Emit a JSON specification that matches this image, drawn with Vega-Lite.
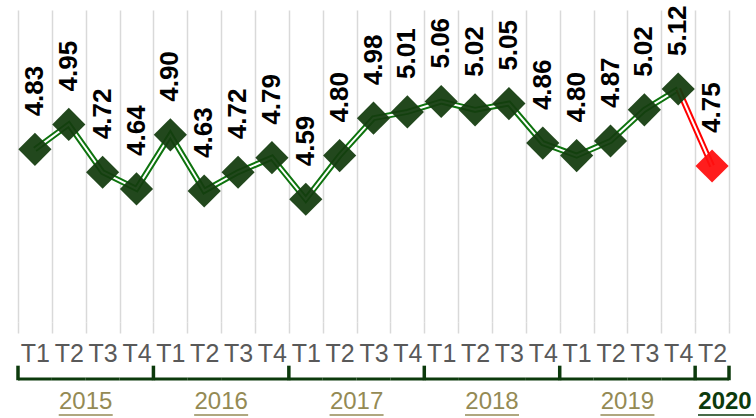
{
  "$schema": "https://vega.github.io/schema/vega-lite/v6.json",
  "width": 711,
  "height": 312,
  "autosize": {"type": "none"},
  "padding": {"left": 18, "top": 10, "right": 27, "bottom": 96},
  "background": "white",
  "view": {"stroke": null},
  "data": {
    "values": [
      {"key": "2015-T1", "q": "T1", "year": "2015", "v": 4.83},
      {"key": "2015-T2", "q": "T2", "year": "2015", "v": 4.95},
      {"key": "2015-T3", "q": "T3", "year": "2015", "v": 4.72},
      {"key": "2015-T4", "q": "T4", "year": "2015", "v": 4.64},
      {"key": "2016-T1", "q": "T1", "year": "2016", "v": 4.90},
      {"key": "2016-T2", "q": "T2", "year": "2016", "v": 4.63},
      {"key": "2016-T3", "q": "T3", "year": "2016", "v": 4.72},
      {"key": "2016-T4", "q": "T4", "year": "2016", "v": 4.79},
      {"key": "2017-T1", "q": "T1", "year": "2017", "v": 4.59},
      {"key": "2017-T2", "q": "T2", "year": "2017", "v": 4.80},
      {"key": "2017-T3", "q": "T3", "year": "2017", "v": 4.98},
      {"key": "2017-T4", "q": "T4", "year": "2017", "v": 5.01},
      {"key": "2018-T1", "q": "T1", "year": "2018", "v": 5.06},
      {"key": "2018-T2", "q": "T2", "year": "2018", "v": 5.02},
      {"key": "2018-T3", "q": "T3", "year": "2018", "v": 5.05},
      {"key": "2018-T4", "q": "T4", "year": "2018", "v": 4.86},
      {"key": "2019-T1", "q": "T1", "year": "2019", "v": 4.80},
      {"key": "2019-T2", "q": "T2", "year": "2019", "v": 4.87},
      {"key": "2019-T3", "q": "T3", "year": "2019", "v": 5.02},
      {"key": "2019-T4", "q": "T4", "year": "2019", "v": 5.12},
      {"key": "2020-T2", "q": "T2", "year": "2020", "v": 4.75}
    ]
  },
  "encoding": {
    "x": {
      "field": "key",
      "type": "ordinal",
      "sort": null,
      "scale": {"paddingInner": 0, "paddingOuter": 0},
      "axis": {
        "title": null,
        "domain": false,
        "grid": true,
        "gridColor": "#d9d9d9",
        "gridWidth": 1.5,
        "tickBand": "extent",
        "tickColor": "#d9d9d9",
        "tickWidth": 1.5,
        "tickSize": 11,
        "labelAngle": 0,
        "labelExpr": "split(datum.value, '-')[1]",
        "labelFont": "Liberation Sans",
        "labelFontSize": 25,
        "labelColor": "#595959",
        "labelPadding": 8
      }
    }
  },
  "layer": [
    {
      "transform": [{"filter": "datum.year != '2020'"}],
      "mark": {"type": "line", "color": "#0e730e", "strokeWidth": 6},
      "encoding": {"y": {"field": "v", "type": "quantitative", "scale": {"domain": [4, 5.5], "nice": false, "zero": false}, "axis": null}}
    },
    {
      "transform": [{"filter": "datum.year != '2020'"}],
      "mark": {"type": "line", "color": "white", "strokeWidth": 2},
      "encoding": {"y": {"field": "v", "type": "quantitative"}}
    },
    {
      "transform": [{"filter": "datum.key == '2019-T4' || datum.key == '2020-T2'"}],
      "mark": {"type": "line", "color": "#ff0000", "strokeWidth": 6},
      "encoding": {"y": {"field": "v", "type": "quantitative"}}
    },
    {
      "transform": [{"filter": "datum.key == '2019-T4' || datum.key == '2020-T2'"}],
      "mark": {"type": "line", "color": "white", "strokeWidth": 2},
      "encoding": {"y": {"field": "v", "type": "quantitative"}}
    },
    {
      "mark": {"type": "point", "shape": "diamond", "filled": true, "size": 1100, "opacity": 0.94},
      "encoding": {
        "y": {"field": "v", "type": "quantitative"},
        "color": {
          "condition": {"test": "datum.year == '2020'", "value": "#ff0f0f"},
          "value": "#143d0f"
        }
      }
    },
    {
      "mark": {"type": "text", "angle": 270, "align": "left", "baseline": "middle", "dx": 33, "font": "Liberation Sans", "fontWeight": "bold", "fontSize": 26, "color": "black"},
      "encoding": {
        "y": {"field": "v", "type": "quantitative"},
        "text": {"field": "v", "type": "quantitative", "format": ".2f"}
      }
    },
    {
      "mark": {"type": "bar", "color": "#0c3a0c"},
      "encoding": {
        "y": {"datum": 3.733},
        "y2": {"datum": 3.719}
      }
    },
    {
      "transform": [{"filter": "datum.q == 'T1' || datum.key == '2020-T2'"}],
      "mark": {"type": "rule", "color": "#0c3a0c", "strokeWidth": 3.5},
      "encoding": {
        "x": {"field": "key", "type": "ordinal", "sort": null, "bandPosition": 0},
        "y": {"datum": 3.72},
        "y2": {"datum": 3.79}
      }
    },
    {
      "transform": [{"filter": "datum.key == '2020-T2'"}],
      "mark": {"type": "rule", "color": "#0c3a0c", "strokeWidth": 3.5},
      "encoding": {
        "x": {"field": "key", "type": "ordinal", "sort": null, "bandPosition": 1},
        "y": {"datum": 3.72},
        "y2": {"datum": 3.79}
      }
    },
    {
      "transform": [{"filter": "datum.q == 'T2' && datum.year != '2020'"}],
      "mark": {"type": "text", "font": "Liberation Sans", "fontSize": 24, "color": "#948a54", "baseline": "middle", "align": "center"},
      "encoding": {
        "x": {"field": "key", "type": "ordinal", "sort": null, "bandPosition": 1},
        "y": {"datum": 3.615},
        "text": {"field": "year"}
      }
    },
    {
      "transform": [{"filter": "datum.q == 'T2' && datum.year != '2020'"}],
      "mark": {"type": "rule", "strokeWidth": 1.5, "color": "#948a54", "xOffset": -27, "x2Offset": 27},
      "encoding": {
        "x": {"field": "key", "type": "ordinal", "sort": null, "bandPosition": 1},
        "x2": {"field": "key", "bandPosition": 1},
        "y": {"datum": 3.553}
      }
    },
    {
      "transform": [{"filter": "datum.key == '2020-T2'"}],
      "mark": {"type": "text", "font": "Liberation Sans", "fontSize": 24, "fontWeight": "bold", "color": "#0c3a0c", "baseline": "middle", "align": "center", "dx": -4},
      "encoding": {
        "x": {"field": "key", "type": "ordinal", "sort": null, "bandPosition": 1},
        "y": {"datum": 3.615},
        "text": {"field": "year"}
      }
    },
    {
      "transform": [{"filter": "datum.key == '2020-T2'"}],
      "mark": {"type": "rule", "strokeWidth": 1.5, "color": "#0c3a0c", "xOffset": -31, "x2Offset": 25},
      "encoding": {
        "x": {"field": "key", "type": "ordinal", "sort": null, "bandPosition": 1},
        "x2": {"field": "key", "bandPosition": 1},
        "y": {"datum": 3.553}
      }
    }
  ]
}
